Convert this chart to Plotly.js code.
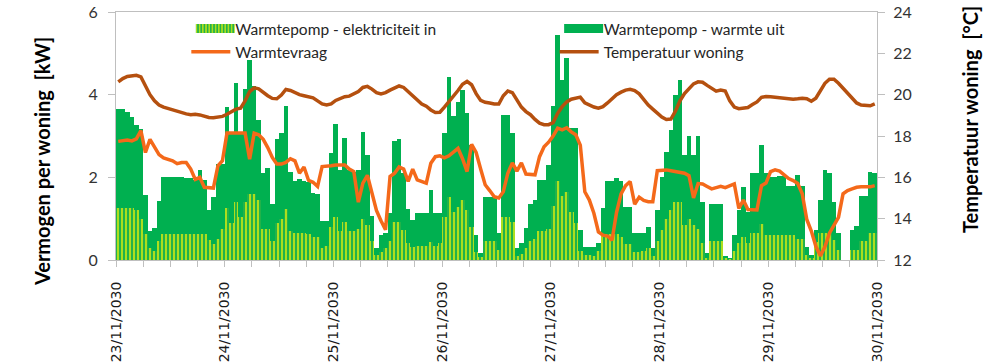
<!DOCTYPE html>
<html>
<head>
<meta charset="utf-8">
<script src="https://cdn.plot.ly/plotly-3.0.1.min.js"></script>
<style>html,body{margin:0;padding:0;background:#fff}#chart{width:989px;height:363px}</style>
</head>
<body>
<div id="chart"></div>
<script>
// Day labels (x axis), one per 24 hours
const dayLabels = ['23/11/2030','24/11/2030','25/11/2030','26/11/2030','27/11/2030','28/11/2030','29/11/2030','30/11/2030'];

// Hourly values, 23/11/2030 00:00 .. 29/11/2030 23:00 (168 hours)
// Warmtepomp - warmte uit [kW]
const warmteUit = [
3.66,3.66,3.58,3.47,3.27,3.17,1.57,0.70,0.77,1.43,2.02,2.02,2.02,2.02,2.00,1.98,1.98,1.94,2.18,1.94,1.21,1.53,2.32,2.32,
3.71,3.10,4.29,3.10,4.13,4.84,4.21,3.39,2.10,2.22,1.36,2.92,3.08,3.73,2.14,1.91,1.96,1.90,1.88,1.63,1.60,0.94,0.95,2.58,
3.28,2.18,2.95,2.18,2.14,2.18,3.10,2.54,1.07,0.28,0.60,0.65,1.13,2.87,2.92,2.10,1.23,0.97,1.13,1.13,1.13,1.70,1.13,1.13,
3.07,4.42,3.49,3.83,4.12,3.55,2.78,0.60,0.16,1.53,1.53,1.53,0.65,3.51,3.51,3.07,0.28,0.40,0.77,1.36,1.45,1.94,1.94,2.30,
3.73,5.45,4.36,4.88,3.19,3.19,0.73,0.32,0.32,0.32,0.40,1.25,1.90,1.90,1.98,1.90,1.29,1.29,0.65,0.65,0.65,0.80,0.28,1.21,
2.02,2.62,3.15,4.00,4.36,2.54,2.99,2.54,2.99,1.41,0.16,1.36,1.36,1.36,0.10,0.04,0.60,1.20,1.76,1.17,2.10,2.10,2.78,2.10,
2.02,2.02,2.04,2.04,1.78,1.78,2.06,1.78,0.32,0.12,0.73,1.45,2.18,2.10,1.41,0.65,0.00,0.00,0.73,0.82,1.55,1.55,2.12,2.10
];
// Warmtepomp - elektriciteit in [kW]
const elektriciteitIn = [
1.27,1.27,1.27,1.25,1.22,0.99,0.62,0.30,0.22,0.45,0.64,0.64,0.64,0.64,0.64,0.64,0.64,0.64,0.64,0.62,0.48,0.38,0.50,0.75,
1.25,0.90,1.40,1.05,1.40,1.60,1.60,1.45,0.75,0.75,0.45,0.90,1.00,1.23,0.70,0.65,0.65,0.65,0.62,0.55,0.55,0.30,0.35,0.80,
1.05,0.70,0.93,0.69,0.69,0.75,0.99,0.85,0.45,0.12,0.20,0.30,0.45,0.91,0.91,0.73,0.40,0.32,0.34,0.34,0.34,0.44,0.34,0.40,
1.05,1.52,1.17,1.29,1.45,1.21,0.80,0.20,0.08,0.47,0.47,0.47,0.25,1.05,1.05,0.93,0.10,0.15,0.30,0.45,0.50,0.70,0.70,0.75,
1.30,1.90,1.55,1.65,1.15,0.90,0.22,0.12,0.12,0.10,0.22,0.60,0.62,0.62,0.62,0.55,0.38,0.38,0.20,0.20,0.22,0.30,0.10,0.45,
0.72,1.00,1.20,1.40,1.40,0.85,1.00,0.85,0.75,0.40,0.05,0.45,0.45,0.45,0.04,0.02,0.22,0.40,0.55,0.40,0.65,0.65,0.87,0.60,
0.60,0.60,0.60,0.60,0.60,0.60,0.52,0.52,0.12,0.05,0.44,0.65,0.65,0.65,0.48,0.24,0.00,0.00,0.24,0.24,0.47,0.47,0.65,0.65
];
// Warmtevraag [kW]
const warmtevraag = [
2.87,2.88,2.90,2.88,2.93,3.13,2.60,2.92,2.72,2.55,2.47,2.44,2.40,2.33,2.36,2.36,2.20,1.95,2.00,1.76,1.74,1.74,2.28,2.40,
3.07,3.07,3.07,3.08,3.07,2.44,3.07,3.03,2.92,2.72,2.48,2.32,2.32,2.36,2.45,2.40,2.10,2.25,1.93,1.88,1.78,2.26,2.26,2.28,
2.30,2.30,2.30,2.20,2.14,1.40,1.86,2.05,1.60,1.20,0.95,0.73,2.02,2.10,2.25,2.20,1.90,2.20,1.94,1.90,1.86,2.34,2.50,2.52,
2.47,2.52,2.62,2.70,2.45,2.14,2.80,2.60,2.20,1.82,1.68,1.53,1.50,1.65,2.10,2.35,2.15,2.35,2.08,2.08,2.06,2.50,2.74,2.85,
3.00,3.19,3.15,3.20,3.10,3.03,2.78,1.65,1.45,1.13,0.68,0.60,0.58,0.48,1.15,1.60,1.80,1.90,1.35,1.52,1.44,1.41,1.41,2.16,
2.18,2.18,2.16,2.14,2.12,2.10,2.04,1.50,1.85,1.84,1.78,1.72,1.75,1.78,1.75,1.80,1.84,1.25,1.45,1.22,1.21,1.21,1.80,1.86,
2.14,2.18,2.15,2.06,1.97,1.92,1.85,1.60,0.98,0.70,0.33,0.10,0.32,0.65,0.85,1.03,1.60,1.68,1.72,1.76,1.77,1.76,1.77,1.80
];
// Temperatuur woning [°C]
const temperatuurWoning = [
20.62,20.78,20.88,20.93,20.94,20.86,20.45,20.00,19.70,19.50,19.40,19.33,19.27,19.20,19.12,19.07,19.03,19.05,19.02,18.95,18.90,18.88,18.90,18.95,
19.05,19.20,19.30,19.35,19.70,20.15,20.33,20.28,20.10,19.95,19.82,19.80,19.98,20.25,20.20,20.08,20.00,19.95,19.92,19.85,19.70,19.55,19.50,19.55,
19.72,19.80,19.90,19.93,20.03,20.15,20.35,20.40,20.27,20.10,20.04,20.10,20.22,20.33,20.42,20.35,20.15,19.90,19.72,19.55,19.44,19.26,19.14,19.15,
19.40,19.65,19.90,20.20,20.50,20.64,20.48,20.05,19.72,19.63,19.60,19.55,19.55,19.95,20.18,20.10,19.75,19.40,19.18,19.03,18.80,18.62,18.55,18.55,
18.65,19.10,19.42,19.65,19.78,19.85,19.88,19.60,19.50,19.40,19.35,19.42,19.60,19.82,20.00,20.12,20.22,20.26,20.20,20.04,19.77,19.50,19.30,19.10,
18.92,18.80,18.82,19.20,19.70,20.05,20.28,20.52,20.62,20.60,20.45,20.30,20.17,20.22,20.18,19.70,19.40,19.32,19.33,19.38,19.52,19.65,19.87,19.91,
19.90,19.87,19.86,19.84,19.80,19.78,19.80,19.83,19.80,19.68,19.83,20.20,20.55,20.75,20.75,20.55,20.30,20.05,19.80,19.60,19.50,19.46,19.46,19.55
];

const hours = warmteUit.map((_, i) => i + 0.5);
const tickVals = [], tickText = [];
for (let h = 0; h <= 168; h += 6) { tickVals.push(h); tickText.push(h % 24 === 0 ? dayLabels[h / 24] : ''); }

const FONT = 'Lato, "Open Sans", sans-serif';
const AX = '#bfbfbf';

const traces = [
  { type: 'bar', name: 'Warmtepomp - warmte uit', x: hours, y: warmteUit, width: 1,
    marker: { color: '#00b050', line: { width: 0 } }, legend: 'legend2' },
  { type: 'bar', name: 'Warmtepomp - elektriciteit in', x: hours, y: elektriciteitIn, width: 1,
    marker: { color: '#22b24a', line: { width: 0 },
      pattern: { shape: '|', fgcolor: '#e8f20a', bgcolor: '#22b24a', size: 4, solidity: 0.35, fillmode: 'replace' } },
    legend: 'legend' },
  { type: 'scatter', mode: 'lines', name: 'Warmtevraag', x: hours, y: warmtevraag,
    line: { color: '#f4691a', width: 3.5 }, legend: 'legend' },
  { type: 'scatter', mode: 'lines', name: 'Temperatuur woning', x: hours, y: temperatuurWoning, yaxis: 'y2',
    line: { color: '#b5500f', width: 3.5 }, legend: 'legend2' }
];

const legendBase = { xref: 'paper', yref: 'paper', xanchor: 'left', yanchor: 'top', bgcolor: 'rgba(0,0,0,0)',
  font: { family: FONT, size: 15.5, color: '#262626' }, itemwidth: 39, tracegroupgap: 4, traceorder: 'normal' };

const layout = {
  width: 989, height: 363,
  margin: { l: 116, r: 112, t: 12, b: 103 },
  paper_bgcolor: '#ffffff', plot_bgcolor: '#ffffff',
  barmode: 'overlay', bargap: 0,
  showlegend: true,
  legend: Object.assign({}, legendBase, { x: 0.0924, y: 1.0 }),
  legend2: Object.assign({}, legendBase, { x: 0.5764, y: 1.0 }),
  xaxis: { range: [0, 168], tickmode: 'array', tickvals: tickVals, ticktext: tickText, tickangle: -90,
    ticks: 'outside', ticklen: 6, tickcolor: AX, showline: true, linecolor: AX, mirror: true,
    showgrid: false, zeroline: false, ticklabelstandoff: 9,
    tickfont: { family: 'DejaVu Sans', size: 14, color: '#1a1a1a' } },
  yaxis: { range: [0, 6], dtick: 2, ticks: 'outside', ticklen: 7, tickcolor: AX, showline: true, linecolor: AX,
    showgrid: false, zeroline: false, tickfont: { family: FONT, size: 16, color: '#333333' }, ticklabelstandoff: 7 },
  yaxis2: { range: [12, 24], dtick: 2, overlaying: 'y', side: 'right', ticks: 'outside', ticklen: 7, tickcolor: AX,
    showline: true, linecolor: AX, showgrid: false, zeroline: false,
    tickfont: { family: FONT, size: 16, color: '#333333' }, ticklabelstandoff: 5 },
  annotations: [
    { text: '<b>Vermogen per woning\u00a0 [kW]</b>', xref: 'paper', yref: 'paper', x: -0.0972, y: 0.395,
      textangle: -90, showarrow: false, xanchor: 'center', yanchor: 'middle',
      font: { family: FONT, size: 20, color: '#000000' } },
    { text: '<b>Temperatuur woning\u00a0 [°C]</b>', xref: 'paper', yref: 'paper', x: 1.1222, y: 0.5685,
      textangle: -90, showarrow: false, xanchor: 'center', yanchor: 'middle',
      font: { family: FONT, size: 20, color: '#000000' } }
  ]
};

function widenBarSwatches() {
  document.querySelectorAll('#chart .legendpoints path').forEach(function (p) {
    const cls = p.getAttribute('class') || '';
    const d = p.getAttribute('d') || '';
    if (cls.indexOf('legendbar') !== -1 || d === 'M6,6H-6V-6H6Z') {
      p.setAttribute('d', 'M-15,4.5H24V-4.5H-15Z');
    }
  });
}

Plotly.newPlot('chart', traces, layout, { displayModeBar: false, staticPlot: true }).then(function (gd) {
  widenBarSwatches();
  gd.on('plotly_afterplot', widenBarSwatches);
  setTimeout(widenBarSwatches, 0);
  setTimeout(widenBarSwatches, 100);
  setTimeout(widenBarSwatches, 400);
});
</script>
</body>
</html>
